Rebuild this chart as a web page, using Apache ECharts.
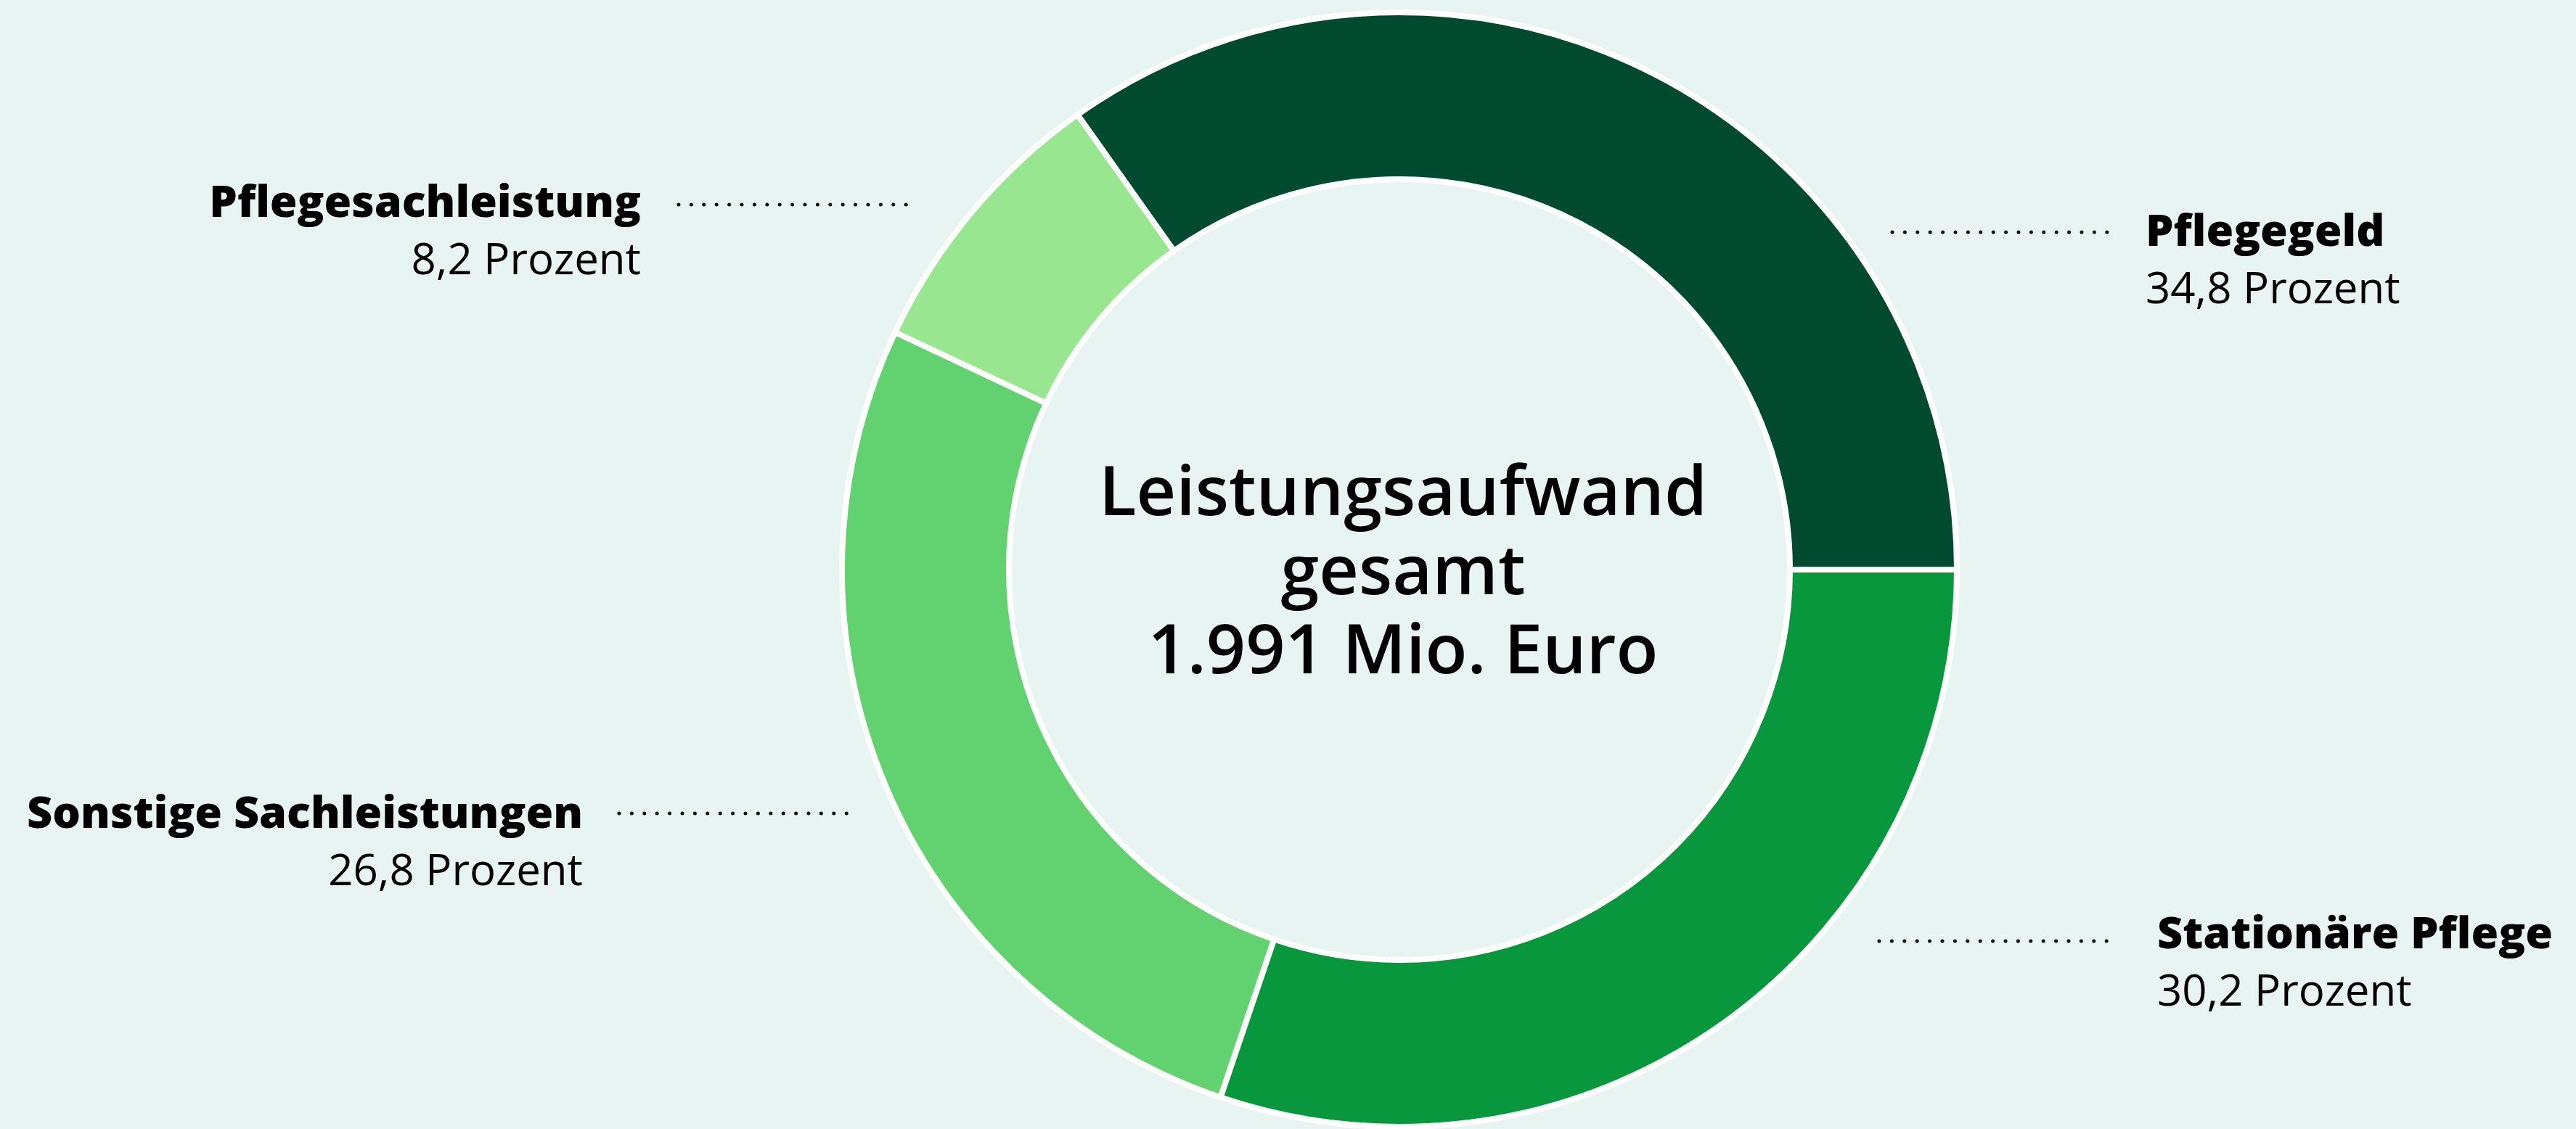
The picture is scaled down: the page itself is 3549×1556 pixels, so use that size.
<!DOCTYPE html>
<html>
<head>
<meta charset="utf-8">
<script src="https://cdn.jsdelivr.net/npm/echarts@6/dist/echarts.min.js"></script>
<style>
  html, body { margin: 0; padding: 0; background: #e7f4f2; }
  #chart { width: 3549px; height: 1556px; }
</style>
</head>
<body>
<div id="chart"></div>
<script>
// data
const categories = ['Pflegegeld', 'Pflegesachleistung', 'Sonstige Sachleistungen', 'Stationäre Pflege'];
const shares = [34.8, 8.2, 26.8, 30.2];
const totalMio = 1991;

// styles / layout
const colors = ['#004a30', '#98e690', '#62d270', '#08973c'];
const labelSpots = [
  { x: 2956, y: 282, align: 'left' },
  { x: 883, y: 242, align: 'right' },
  { x: 803, y: 1084, align: 'right' },
  { x: 2972, y: 1250, align: 'left' }
];
const leaders = [
  [2607, 2920, 320],
  [935, 1250, 282],
  [853, 1172, 1121],
  [2589, 2906, 1297]
];

function fmtDe(n, d) {
  return n.toFixed(d).replace('.', ',');
}
function fmtThousands(n) {
  return String(n).replace(/\B(?=(\d{3})+(?!\d))/g, '.');
}

const chart = echarts.init(document.getElementById('chart'));

const option = {
  backgroundColor: '#e7f4f2',
  animation: false,
  title: {
    text: 'Leistungsaufwand\ngesamt\n' + fmtThousands(totalMio) + ' Mio. Euro',
    left: 1928,
    top: 787,
    textAlign: 'center',
    textVerticalAlign: 'middle',
    textStyle: {
      fontFamily: 'Open Sans',
      fontSize: 95,
      fontWeight: 600,
      lineHeight: 109,
      color: '#000'
    }
  },
  graphic: leaders.map(function (l) {
    return {
      type: 'line',
      silent: true,
      shape: { x1: l[0], y1: l[2], x2: l[1], y2: l[2] },
      style: {
        stroke: '#111',
        lineWidth: 5,
        lineCap: 'round',
        lineDash: [0, 17.4]
      }
    };
  }),
  series: [
    {
      type: 'pie',
      center: [1928, 785],
      radius: [538, 768],
      startAngle: 0,
      clockwise: false,
      silent: true,
      itemStyle: {
        borderColor: '#ffffff',
        borderWidth: 8
      },
      label: {
        show: true,
        position: 'outside',
        formatter: function (p) {
          return '{b|' + p.name + '}\n{p|' + fmtDe(p.value, 1) + ' Prozent}';
        },
        rich: {
          b: {
            fontFamily: 'Open Sans',
            fontWeight: 800,
            fontSize: 61,
            lineHeight: 79,
            color: '#000'
          },
          p: {
            fontFamily: 'Open Sans',
            fontWeight: 'normal',
            fontSize: 60,
            lineHeight: 79,
            color: '#000'
          }
        }
      },
      labelLine: { show: false },
      labelLayout: function (params) {
        const s = labelSpots[params.dataIndex];
        return { x: s.x, y: s.y, align: s.align, verticalAlign: 'top' };
      },
      data: categories.map(function (c, i) {
        return { name: c, value: shares[i], itemStyle: { color: colors[i] } };
      })
    }
  ]
};

chart.setOption(option);
</script>
</body>
</html>
